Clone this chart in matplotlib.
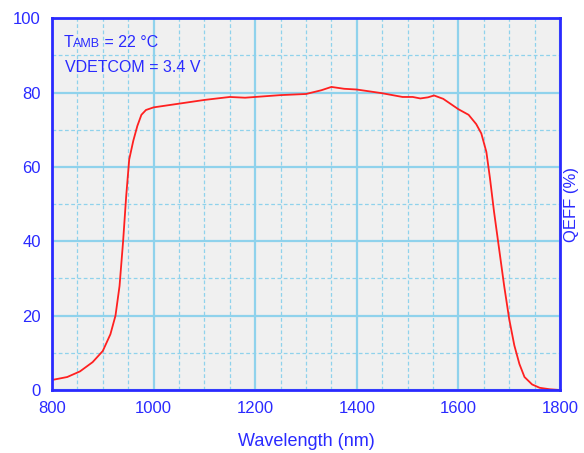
import matplotlib
matplotlib.use("Agg")
import matplotlib.pyplot as plt
from matplotlib.ticker import MultipleLocator
from matplotlib.offsetbox import TextArea, HPacker, AnchoredOffsetbox

plt.rcParams['font.family'] = ['Liberation Sans', 'DejaVu Sans']

# QE curve
wavelength = [800, 830, 855, 880, 900, 915, 925, 933, 940, 946, 952, 960, 968, 976, 985,
              1000, 1050, 1100, 1150, 1180, 1200, 1250, 1300, 1330, 1350, 1375, 1400,
              1450, 1490, 1510, 1525, 1540, 1552, 1570, 1600, 1620, 1635, 1645, 1655,
              1662, 1670, 1680, 1690, 1700, 1710, 1720, 1730, 1745, 1760, 1780, 1800]
qeff = [2.7, 3.5, 5.0, 7.5, 10.5, 15.0, 20.0, 28.0, 40.0, 52.0, 62.0, 67.0, 71.0, 74.0, 75.3,
        76.0, 77.0, 78.0, 78.8, 78.6, 78.8, 79.3, 79.6, 80.6, 81.5, 81.0, 80.8,
        79.8, 78.8, 78.8, 78.4, 78.7, 79.2, 78.3, 75.5, 74.0, 71.5, 69.0, 64.0,
        57.0, 48.0, 38.0, 28.0, 19.0, 12.0, 7.0, 3.5, 1.5, 0.6, 0.2, 0.0]

xticks = [800, 1000, 1200, 1400, 1600, 1800]
yticks = [0, 20, 40, 60, 80, 100]

blue = '#2a2aff'
grid_c = '#8fd2ec'

fig = plt.figure(figsize=(5.84, 4.53), dpi=100)
ax = fig.add_axes([0.089, 0.139, 0.870, 0.821])
ax.set_facecolor('#f0f0f0')

ax.set_xlim(800, 1800)
ax.set_ylim(0, 100)
ax.set_xticks(xticks)
ax.set_yticks(yticks)
ax.xaxis.set_minor_locator(MultipleLocator(50))
ax.yaxis.set_minor_locator(MultipleLocator(10))

ax.grid(which='major', color=grid_c, linewidth=1.6, linestyle='-')
ax.grid(which='minor', color=grid_c, linewidth=0.9, linestyle=(0, (3, 2)))
ax.set_axisbelow(True)

ax.plot(wavelength, qeff, color='#ff2020', linewidth=1.3)

for s in ax.spines.values():
    s.set_color(blue)
    s.set_linewidth(2)

ax.tick_params(which='both', length=0, colors=blue, labelsize=12, pad=8)

ax.set_xlabel('Wavelength (nm)', color=blue, fontsize=13, labelpad=12)
ax.yaxis.set_label_position('right')
ax.set_ylabel('QEFF (%)', color=blue, fontsize=12, labelpad=3)

# "T" + small-caps "AMB" on the same baseline
parts = [TextArea('T', textprops=dict(color=blue, fontsize=11.5)),
         TextArea('AMB', textprops=dict(color=blue, fontsize=9)),
         TextArea(' = 22 °C', textprops=dict(color=blue, fontsize=11.5))]
row = HPacker(children=parts, align='baseline', pad=0, sep=0)
box = AnchoredOffsetbox(loc='upper left', child=row, pad=0, frameon=False,
                        bbox_to_anchor=(0.022, 0.955), bbox_transform=ax.transAxes,
                        borderpad=0)
ax.add_artist(box)
ax.text(0.025, 0.855, 'VDETCOM = 3.4 V', transform=ax.transAxes, color=blue, fontsize=11.5)

fig.savefig('out.png', dpi=100)
